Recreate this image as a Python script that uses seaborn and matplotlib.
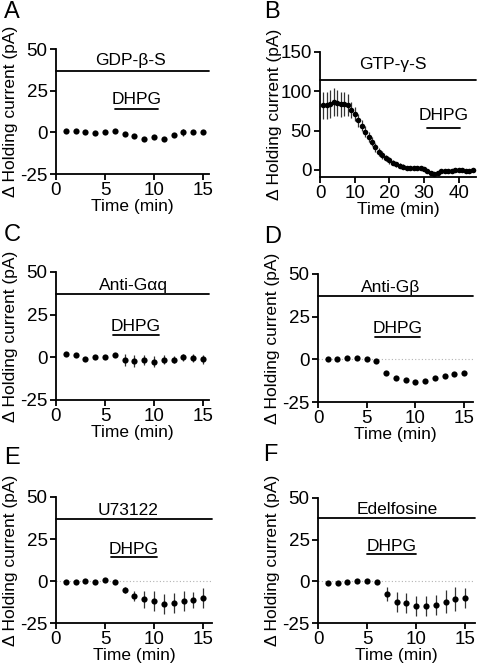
import matplotlib
matplotlib.use("Agg")
import matplotlib.pyplot as plt
import seaborn as sns

# time points (min)
t15 = [1, 2, 3, 4, 5, 6, 7, 8, 9, 10, 11, 12, 13, 14, 15]
t44 = [1, 2, 3, 4, 5, 6, 7, 8, 9, 10, 11, 12, 13, 14, 15, 16, 17, 18, 19, 20, 21, 22,
       23, 24, 25, 26, 27, 28, 29, 30, 31, 32, 33, 34, 35, 36, 37, 38, 39, 40, 41, 42, 43, 44]

# A: GDP-beta-S
gdp_mean = [0.6, 0.6, 0, -0.4, 0, 0.6, -0.8, -2.2, -3.8, -3.0, -3.8, -1.6, 0, 0, 0]
gdp_err = [1, 1, 1, 1, 1, 1, 1, 1, 1, 1, 1, 1, 2, 1, 1]

# B: GTP-gamma-S
gtp_mean = [82, 82, 84, 86.5, 85, 83.5, 83.5, 82, 76, 71, 63, 56, 48.5, 42, 36, 28.7,
            23, 19, 15, 12, 9, 7, 5.5, 4, 2.5, 2, 2, 2.5, 2, 1, -1, -3.4, -5, -3.4,
            -2, -2, -2, -1.3, 0, 0, 0, -1, -1, 0]
gtp_err = [17, 17, 18, 18, 17, 16, 15, 14, 10, 9, 8, 7, 7, 6, 6, 6, 5, 5, 4, 4, 3, 3,
           3, 3, 2, 2, 2, 2, 2, 2, 2, 2, 2, 2, 2, 2, 2, 2, 2, 2, 2, 2, 2, 2]

# C: Anti-Galphaq
gaq_mean = [1.8, 1.4, -0.8, 0, 0, 1.4, -1.4, -2.2, -1.4, -2.5, -1.4, -1.4, 0, -0.4, -1.2]
gaq_err = [1, 1, 1, 1, 1, 1, 3.5, 3.5, 3, 3, 2.5, 2, 2, 2.5, 2.5]

# D: Anti-Gbeta
gb_mean = [0.4, 0.4, 0.8, 0.8, 0, -1, -8, -10.8, -12.2, -13.3, -12.5, -11.2, -9.6, -8.4, -7.8]
gb_err = [0.8, 0.8, 0.8, 0.8, 0.8, 0.8, 1, 1, 1, 1, 1, 1, 1, 1, 1]

# E: U73122
u7_mean = [-0.4, -0.8, -0.2, -0.6, 0.4, -0.4, -5.3, -9.1, -11, -12, -13.8, -13, -11.9, -11.3, -10]
u7_err = [1, 1, 1, 1, 1, 1, 2, 3, 5, 6, 6, 6, 6, 5, 6]

# F: Edelfosine
ed_mean = [-1.2, -0.8, -0.2, 0.2, 0.2, -0.6, -7.6, -12.2, -13.2, -14.8, -14.8, -14.2, -12.2, -10.6, -10.2]
ed_err = [1, 1, 1, 1, 1, 1, 4, 6, 6, 6, 6, 6, 7, 7, 6]

panel_letters = ["A", "B", "C", "D", "E", "F"]
drug_names = ["GDP-\u03b2-S", "GTP-\u03b3-S", "Anti-G\u03b1q", "Anti-G\u03b2", "U73122", "Edelfosine"]

sns.set_style("ticks")
plt.rcParams["font.family"] = ["Liberation Sans", "DejaVu Sans"]
plt.rcParams.update({
    "axes.linewidth": 1.3,
    "axes.unicode_minus": False,
    "xtick.major.width": 1.3,
    "ytick.major.width": 1.3,
    "xtick.major.size": 4,
    "ytick.major.size": 4,
    "xtick.major.pad": 2,
    "ytick.major.pad": 2,
    "xtick.labelsize": 13.5,
    "ytick.labelsize": 13.5,
    "axes.labelsize": 12.5,
    "xtick.color": "black",
    "ytick.color": "black",
    "axes.edgecolor": "black",
    "text.color": "black",
    "axes.labelcolor": "black",
})

W, H = 489, 666
fig = plt.figure(figsize=(W / 100, H / 100), dpi=100)

# (left, right, top, bottom) in pixels
boxes = [(56, 209, 49, 174), (320, 476, 52, 177),
         (56, 209, 272, 400), (318, 473, 274, 402),
         (56, 212, 497, 623), (318, 475, 498, 623)]
letter_pos = [(12, 12), (272, 12), (12, 235), (273, 237), (12, 458), (270, 455)]

panels = [
    dict(t=t15, m=gdp_mean, e=gdp_err, xlim=(0, 15.6), ylim=(-25, 50), yt=[-25, 0, 25, 50],
         xt=[0, 5, 10, 15], bar=37, lab=(7.6, 40.5), dh=(6, 10.4, 14), dhy=17.3, zero=False, s=20),
    dict(t=t44, m=gtp_mean, e=gtp_err, xlim=(0, 45), ylim=(-9, 150), yt=[0, 50, 100, 150],
         xt=[0, 10, 20, 30, 40], bar=115, lab=(21, 128), dh=(31, 40.5, 53), dhy=63.5, zero=False, s=16),
    dict(t=t15, m=gaq_mean, e=gaq_err, xlim=(0, 15.6), ylim=(-25, 50), yt=[-25, 0, 25, 50],
         xt=[0, 5, 10, 15], bar=37, lab=(7.9, 39.6), dh=(5.8, 10.5, 13), dhy=15.2, zero=False, s=20),
    dict(t=t15, m=gb_mean, e=gb_err, xlim=(0, 15.9), ylim=(-25, 50), yt=[-25, 0, 25, 50],
         xt=[0, 5, 10, 15], bar=37, lab=(7.5, 39.6), dh=(5.8, 10.5, 13), dhy=15.5, zero=True, s=20),
    dict(t=t15, m=u7_mean, e=u7_err, xlim=(0, 15.9), ylim=(-25, 50), yt=[-25, 0, 25, 50],
         xt=[0, 5, 10, 15], bar=37, lab=(7.3, 39.5), dh=(5.6, 10.3, 14.4), dhy=15.8, zero=True, s=20),
    dict(t=t15, m=ed_mean, e=ed_err, xlim=(0, 16), ylim=(-25, 50), yt=[-25, 0, 25, 50],
         xt=[0, 5, 10, 15], bar=38, lab=(8.1, 40.4), dh=(5.0, 10.0, 16.4), dhy=18.3, zero=True, s=20),
]

for i, p in enumerate(panels):
    l, r, t, b = boxes[i]
    ax = fig.add_axes([l / W, 1 - b / H, (r - l) / W, (b - t) / H])
    if p["zero"]:
        ax.axhline(0, color="0.7", ls=(0, (1, 2)), lw=0.8, zorder=0)
    ax.errorbar(p["t"], p["m"], yerr=p["e"], fmt="none", ecolor="0.2",
                elinewidth=0.9, capsize=0, zorder=1)
    sns.scatterplot(x=p["t"], y=p["m"], ax=ax, color="black", s=p["s"],
                    linewidth=0, zorder=2)
    # drug application bar across the recording
    ax.plot(p["xlim"], [p["bar"], p["bar"]], color="black", lw=1.3, clip_on=False)
    ax.text(p["lab"][0], p["lab"][1], drug_names[i], ha="center", va="baseline", fontsize=12.5)
    # DHPG bar
    x0, x1, yb = p["dh"]
    ax.plot([x0, x1], [yb, yb], color="black", lw=1.3)
    ax.text((x0 + x1) / 2, p["dhy"], "DHPG", ha="center", va="baseline", fontsize=12.5)

    ax.set_xlim(p["xlim"])
    ax.set_ylim(p["ylim"])
    ax.set_xticks(p["xt"])
    ax.set_yticks(p["yt"])
    sns.despine(ax=ax)
    ax.set_xlabel("Time (min)", labelpad=0)
    ax.set_ylabel("\u0394 Holding current (pA)")
    ax.yaxis.set_label_coords(-38 / (r - l), 0.5)

    lx, ly = letter_pos[i]
    fig.text(lx / W, 1 - ly / H, panel_letters[i], fontsize=17, ha="center", va="center")

fig.savefig("out.png", dpi=100)
